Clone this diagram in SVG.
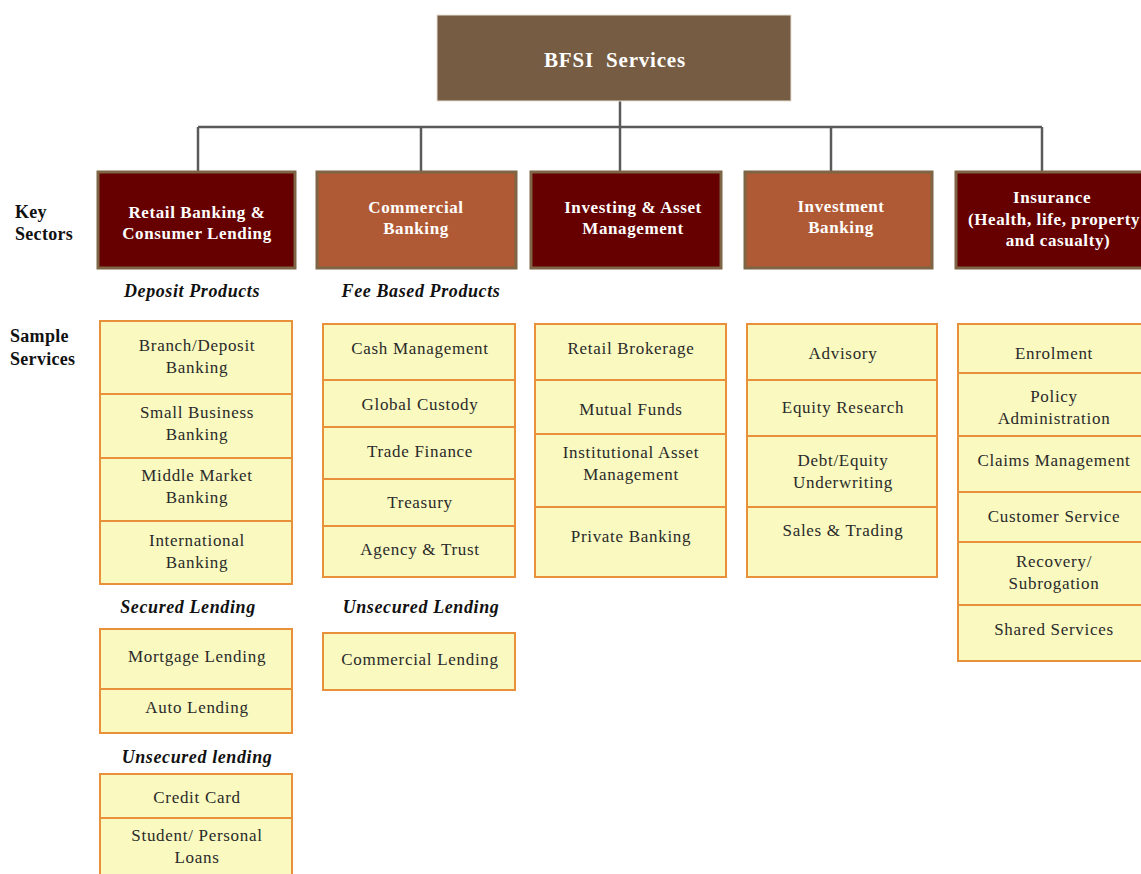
<svg xmlns="http://www.w3.org/2000/svg" width="1141" height="874" viewBox="0 0 1141 874">
<style>
  .bg{fill:#ffffff}
  .conn{stroke:#5a5a5a;stroke-width:2.5;fill:none}
  .top{fill:#765c42;stroke:#e6e0d8;stroke-width:1}
  .dark{fill:#660000;stroke:#7d6545;stroke-width:3}
  .orng{fill:#b05a35;stroke:#7d6545;stroke-width:3}
  .cell{fill:#f9f9c0;stroke:#e8913a;stroke-width:2}
  .ht{font-family:"Liberation Serif",serif;font-weight:bold;fill:#ffffff;font-size:17px;letter-spacing:0.6px;text-anchor:middle}
  .tt{font-family:"Liberation Serif",serif;font-weight:bold;fill:#ffffff;font-size:21px;letter-spacing:0.8px;text-anchor:middle}
  .st{font-family:"Liberation Serif",serif;fill:#2a2a2a;font-size:17px;letter-spacing:0.7px;text-anchor:middle}
  .sub{font-family:"Liberation Serif",serif;font-weight:bold;font-style:italic;fill:#111;font-size:18px;letter-spacing:0.6px;text-anchor:middle}
  .lbl{font-family:"Liberation Serif",serif;font-weight:bold;fill:#111;font-size:18px;letter-spacing:0.3px}
</style>
<rect class="bg" x="0" y="0" width="1141" height="874"/>

<g id="connectors">
  <path class="conn" d="M620 101 V171"/>
  <path class="conn" d="M198 127 H1042"/>
  <path class="conn" d="M198 127 V171"/>
  <path class="conn" d="M421 127 V171"/>
  <path class="conn" d="M831 127 V171"/>
  <path class="conn" d="M1042 127 V171"/>
</g>

<g id="bfsi">
  <rect class="top" x="437" y="15" width="354" height="86"/>
  <text class="tt" x="615" y="67" xml:space="preserve">BFSI  Services</text>
</g>

<g id="labels">
  <text class="lbl" x="15" y="218">Key</text>
  <text class="lbl" x="15" y="240">Sectors</text>
  <text class="lbl" x="10" y="342">Sample</text>
  <text class="lbl" x="10" y="365">Services</text>
</g>

<g id="sector-retail">
  <rect class="dark" x="98" y="172" width="197" height="96"/>
  <text class="ht" x="197" y="218">Retail Banking &amp;</text>
  <text class="ht" x="197" y="239">Consumer Lending</text>
</g>
<g id="sector-commercial">
  <rect class="orng" x="317" y="172" width="199" height="96"/>
  <text class="ht" x="416" y="213">Commercial</text>
  <text class="ht" x="416" y="234">Banking</text>
</g>
<g id="sector-investing">
  <rect class="dark" x="531" y="172" width="190" height="96"/>
  <text class="ht" x="633" y="213">Investing &amp; Asset</text>
  <text class="ht" x="633" y="234">Management</text>
</g>
<g id="sector-investment">
  <rect class="orng" x="745" y="172" width="187" height="96"/>
  <text class="ht" x="841" y="212">Investment</text>
  <text class="ht" x="841" y="233">Banking</text>
</g>
<g id="sector-insurance">
  <rect class="dark" x="956" y="172" width="200" height="96"/>
  <text class="ht" x="1052" y="203">Insurance</text>
  <text class="ht" x="1054" y="225">(Health, life, property</text>
  <text class="ht" x="1058" y="246">and casualty)</text>
</g>

<g id="headings">
  <text class="sub" x="192" y="297">Deposit Products</text>
  <text class="sub" x="421" y="297">Fee Based Products</text>
  <text class="sub" x="188" y="613">Secured Lending</text>
  <text class="sub" x="421" y="613">Unsecured Lending</text>
  <text class="sub" x="197" y="763">Unsecured lending</text>
</g>

<g id="col-retail-deposit">
  <rect class="cell" x="100" y="321" width="192" height="73"/>
  <text class="st" x="197" y="351">Branch/Deposit</text>
  <text class="st" x="197" y="373">Banking</text>
  <rect class="cell" x="100" y="394" width="192" height="64"/>
  <text class="st" x="197" y="418">Small Business</text>
  <text class="st" x="197" y="440">Banking</text>
  <rect class="cell" x="100" y="458" width="192" height="63"/>
  <text class="st" x="197" y="481">Middle Market</text>
  <text class="st" x="197" y="503">Banking</text>
  <rect class="cell" x="100" y="521" width="192" height="63"/>
  <text class="st" x="197" y="546">International</text>
  <text class="st" x="197" y="568">Banking</text>
</g>

<g id="col-retail-secured">
  <rect class="cell" x="100" y="629" width="192" height="60"/>
  <text class="st" x="197" y="662">Mortgage Lending</text>
  <rect class="cell" x="100" y="689" width="192" height="44"/>
  <text class="st" x="197" y="713">Auto Lending</text>
</g>

<g id="col-retail-unsecured">
  <rect class="cell" x="100" y="774" width="192" height="44"/>
  <text class="st" x="197" y="803">Credit Card</text>
  <rect class="cell" x="100" y="818" width="192" height="70"/>
  <text class="st" x="197" y="841">Student/ Personal</text>
  <text class="st" x="197" y="863">Loans</text>
</g>

<g id="col-commercial-fee">
  <rect class="cell" x="323" y="324" width="192" height="56"/>
  <text class="st" x="420" y="354">Cash Management</text>
  <rect class="cell" x="323" y="380" width="192" height="47"/>
  <text class="st" x="420" y="410">Global Custody</text>
  <rect class="cell" x="323" y="427" width="192" height="52"/>
  <text class="st" x="420" y="457">Trade Finance</text>
  <rect class="cell" x="323" y="479" width="192" height="47"/>
  <text class="st" x="420" y="508">Treasury</text>
  <rect class="cell" x="323" y="526" width="192" height="51"/>
  <text class="st" x="420" y="555">Agency &amp; Trust</text>
</g>

<g id="col-commercial-unsecured">
  <rect class="cell" x="323" y="633" width="192" height="57"/>
  <text class="st" x="420" y="665">Commercial Lending</text>
</g>

<g id="col-investing">
  <rect class="cell" x="535" y="324" width="191" height="56"/>
  <text class="st" x="631" y="354">Retail Brokerage</text>
  <rect class="cell" x="535" y="380" width="191" height="54"/>
  <text class="st" x="631" y="415">Mutual Funds</text>
  <rect class="cell" x="535" y="434" width="191" height="73"/>
  <text class="st" x="631" y="458">Institutional Asset</text>
  <text class="st" x="631" y="480">Management</text>
  <rect class="cell" x="535" y="507" width="191" height="70"/>
  <text class="st" x="631" y="542">Private Banking</text>
</g>

<g id="col-investment">
  <rect class="cell" x="747" y="324" width="190" height="56"/>
  <text class="st" x="843" y="359">Advisory</text>
  <rect class="cell" x="747" y="380" width="190" height="56"/>
  <text class="st" x="843" y="413">Equity Research</text>
  <rect class="cell" x="747" y="436" width="190" height="71"/>
  <text class="st" x="843" y="466">Debt/Equity</text>
  <text class="st" x="843" y="488">Underwriting</text>
  <rect class="cell" x="747" y="507" width="190" height="70"/>
  <text class="st" x="843" y="536">Sales &amp; Trading</text>
</g>

<g id="col-insurance">
  <rect class="cell" x="958" y="324" width="195" height="49"/>
  <text class="st" x="1054" y="359">Enrolment</text>
  <rect class="cell" x="958" y="373" width="195" height="63"/>
  <text class="st" x="1054" y="402">Policy</text>
  <text class="st" x="1054" y="424">Administration</text>
  <rect class="cell" x="958" y="436" width="195" height="56"/>
  <text class="st" x="1054" y="466">Claims Management</text>
  <rect class="cell" x="958" y="492" width="195" height="50"/>
  <text class="st" x="1054" y="522">Customer Service</text>
  <rect class="cell" x="958" y="542" width="195" height="63"/>
  <text class="st" x="1054" y="567">Recovery/</text>
  <text class="st" x="1054" y="589">Subrogation</text>
  <rect class="cell" x="958" y="605" width="195" height="56"/>
  <text class="st" x="1054" y="635">Shared Services</text>
</g>
</svg>
